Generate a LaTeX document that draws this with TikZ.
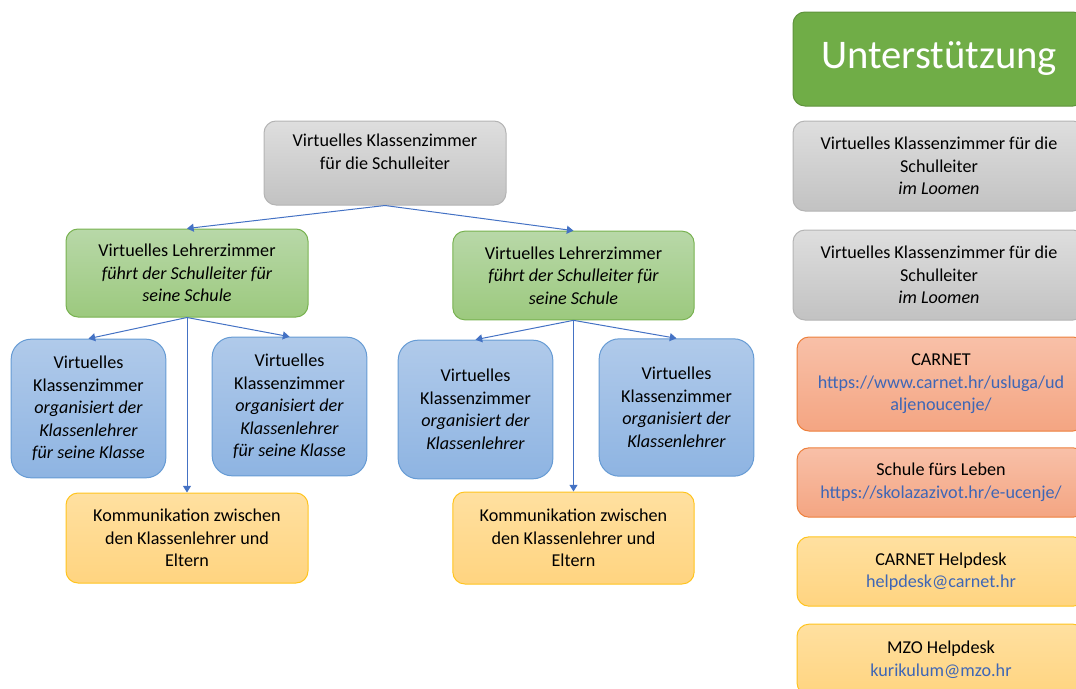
\documentclass[tikz,border=0pt]{standalone}
\usepackage{fontspec}
\setmainfont{Carlito}
\usetikzlibrary{arrows.meta}

\definecolor{grayTop}{RGB}{222,222,222}
\definecolor{grayBot}{RGB}{194,194,194}
\definecolor{grayLine}{RGB}{180,180,180}
\definecolor{greenTop}{RGB}{184,216,168}
\definecolor{greenBot}{RGB}{156,201,126}
\definecolor{greenLine}{RGB}{120,178,80}
\definecolor{greenHead}{RGB}{112,173,71}
\definecolor{blueTop}{RGB}{176,202,234}
\definecolor{blueBot}{RGB}{142,180,226}
\definecolor{blueLine}{RGB}{102,155,212}
\definecolor{yellowTop}{RGB}{255,224,160}
\definecolor{yellowBot}{RGB}{255,212,128}
\definecolor{yellowLine}{RGB}{255,196,30}
\definecolor{orangeTop}{RGB}{248,192,168}
\definecolor{orangeBot}{RGB}{244,165,130}
\definecolor{orangeLine}{RGB}{237,128,60}
\definecolor{arrowBlue}{RGB}{68,114,196}
\definecolor{linkBlue}{RGB}{62,102,182}

\begin{document}
\begin{tikzpicture}[x=0.75pt,y=0.75pt,yscale=-1,xscale=1,
  box/.style={draw, line width=0.75pt, rounded corners=9pt, align=center, inner sep=0pt,
    font=\fontsize{13.6}{16.9}\selectfont},
  graybox/.style={box, draw=grayLine, top color=grayTop, bottom color=grayBot},
  greenbox/.style={box, draw=greenLine, top color=greenTop, bottom color=greenBot},
  bluebox/.style={box, draw=blueLine, top color=blueTop, bottom color=blueBot, rounded corners=15pt},
  yellowbox/.style={box, draw=yellowLine, top color=yellowTop, bottom color=yellowBot},
  orangebox/.style={box, draw=orangeLine, top color=orangeTop, bottom color=orangeBot},
  link/.style={draw=arrowBlue, line width=0.75pt, -{Triangle[width=6pt,length=5pt]}}]
\useasboundingbox (0,0) rectangle (1076,689);
\clip (0,0) rectangle (1076,689);

%Shape: Rounded Rect (top)
\node [graybox, minimum width=181.5pt, minimum height=63pt] (head) at (385,163)
  {Virtuelles Klassenzimmer\\für die Schulleiter\\~};

%Shape: Rounded Rect (teacher rooms)
\node [greenbox, minimum width=181.5pt, minimum height=66pt] (roomL) at (187,273)
  {Virtuelles Lehrerzimmer\\\textit{führt der Schulleiter für}\\\textit{seine Schule}};
\node [greenbox, minimum width=181pt, minimum height=66.5pt] (roomR) at (573.5,275.5)
  {Virtuelles Lehrerzimmer\\\textit{führt der Schulleiter für}\\\textit{seine Schule}};

%Shape: Rounded Rect (class rooms)
\node [bluebox, minimum width=116pt, minimum height=104pt] (classLL) at (88.5,408.5)
  {Virtuelles\\Klassenzimmer\\\textit{organisiert der}\\\textit{Klassenlehrer}\\\textit{für seine Klasse}};
\node [bluebox, minimum width=116pt, minimum height=104pt] (classLR) at (289.5,406.5)
  {Virtuelles\\Klassenzimmer\\\textit{organisiert der}\\\textit{Klassenlehrer}\\\textit{für seine Klasse}};
\node [bluebox, minimum width=116pt, minimum height=104pt] (classRL) at (475.5,409.5)
  {Virtuelles\\Klassenzimmer\\\textit{organisiert der}\\\textit{Klassenlehrer}};
\node [bluebox, minimum width=116pt, minimum height=103pt] (classRR) at (676.5,407.5)
  {Virtuelles\\Klassenzimmer\\\textit{organisiert der}\\\textit{Klassenlehrer}};

%Shape: Rounded Rect (parents)
\node [yellowbox, minimum width=181.5pt, minimum height=67.5pt] (parentsL) at (187,538)
  {Kommunikation zwischen\\den Klassenlehrer und\\Eltern};
\node [yellowbox, minimum width=181pt, minimum height=69pt] (parentsR) at (573.5,538)
  {Kommunikation zwischen\\den Klassenlehrer und\\Eltern};

%Straight Lines
\draw [link] (head.south) -- (roomL.north);
\draw [link] (head.south) -- (roomR.north);
\draw [link] (roomL.south) -- (classLL.north);
\draw [link] (roomL.south) -- (classLR.north);
\draw [link] (roomL.south) -- (parentsL.north);
\draw [link] (roomR.south) -- (classRL.north);
\draw [link] (roomR.south) -- (classRR.north);
\draw [link] (roomR.south) -- (parentsR.north);

%Shape: Rounded Rect (support column)
\node [box, draw=greenHead!85!black, fill=greenHead, text=white, minimum width=219pt, minimum height=70.5pt,
  font=\fontsize{30.5}{36}\selectfont] (support) at (939,59) {Unterstützung};
\node [graybox, minimum width=219pt, minimum height=67.5pt] (loomenA) at (939,166)
  {Virtuelles Klassenzimmer für die\\Schulleiter\\\textit{im Loomen}};
\node [graybox, minimum width=219pt, minimum height=67.5pt] (loomenB) at (939,275)
  {Virtuelles Klassenzimmer für die\\Schulleiter\\\textit{im Loomen}};
\node [orangebox, minimum width=216pt, minimum height=70.5pt] (carnet) at (941,384)
  {CARNET\\\textcolor{linkBlue}{https://www.carnet.hr/usluga/ud}\\\textcolor{linkBlue}{aljenoucenje/}};
\node [orangebox, minimum width=216pt, minimum height=52pt] (school) at (941,482.5)
  {Schule fürs Leben\\\textcolor{linkBlue}{https://skolazazivot.hr/e-ucenje/}};
\node [yellowbox, minimum width=216pt, minimum height=52pt] (helpA) at (941,571.5)
  {CARNET Helpdesk\\\textcolor{linkBlue}{helpdesk@carnet.hr}};
\node [yellowbox, minimum width=216pt, minimum height=53pt] (helpB) at (941,659.5)
  {MZO Helpdesk\\\textcolor{linkBlue}{kurikulum@mzo.hr}};

\end{tikzpicture}
\end{document}
